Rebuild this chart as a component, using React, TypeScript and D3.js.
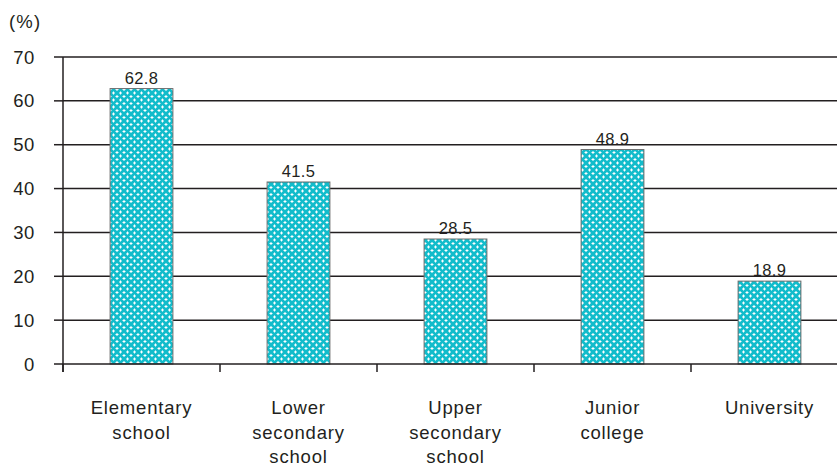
import React from "react";
import * as d3 from "d3";

const categories = [
  ["Elementary", "school"],
  ["Lower", "secondary", "school"],
  ["Upper", "secondary", "school"],
  ["Junior", "college"],
  ["University"],
];
const values = [62.8, 41.5, 28.5, 48.9, 18.9];
const yTicks = [0, 10, 20, 30, 40, 50, 60, 70];

const W = 837;
const H = 466;
const left = 63;
const step = 157;

export default function App() {
  const x = d3
    .scaleBand<number>()
    .domain(values.map((_, i) => i))
    .range([left, left + step * values.length])
    .paddingInner(0.6)
    .paddingOuter(0.3);
  const y = d3.scaleLinear().domain([0, 70]).range([364, 57]);
  const font = "'Liberation Sans', Arial, sans-serif";
  return (
    <svg width={W} height={H} style={{ position: "absolute", left: 0, top: 0 }}>
      <defs>
        <pattern id="dots" width="7" height="7" patternUnits="userSpaceOnUse">
          <rect width="7" height="7" fill="#12bccb" />
          <path d="M1 0.5h1v1h1v1h-1v1h-1v-1h-1v-1h1z" fill="#fff" />
          <path d="M4.5 4h1v1h1v1h-1v1h-1v-1h-1v-1h1z" fill="#fff" />
        </pattern>
      </defs>
      {yTicks.map((t) => (
        <g key={t}>
          {t > 0 && (
            <line x1={left} x2={W} y1={y(t)} y2={y(t)} stroke="#231f20" strokeWidth={1.5} />
          )}
          <line x1={54} x2={left} y1={y(t)} y2={y(t)} stroke="#231f20" strokeWidth={1.5} />
          <text
            x={35}
            y={y(t) + 6.5}
            textAnchor="end"
            fontSize={18.5}
            letterSpacing={0.6}
            fontFamily={font}
            fill="#231f20"
          >
            {t}
          </text>
        </g>
      ))}
      <text x={9} y={28} fontSize={18.5} letterSpacing={1.2} fontFamily={font} fill="#231f20">
        (%)
      </text>
      {values.map((v, i) => (
        <g key={i}>
          <rect
            x={x(i)}
            y={y(v)}
            width={x.bandwidth()}
            height={y(0) - y(v)}
            fill="url(#dots)"
            stroke="#6d6d6d"
            strokeWidth={1}
          />
          <text
            x={x(i)! + x.bandwidth() / 2}
            y={y(v) - 5}
            textAnchor="middle"
            fontSize={16.5}
            letterSpacing={0.4}
            fontFamily={font}
            fill="#231f20"
          >
            {v.toFixed(1)}
          </text>
        </g>
      ))}
      <line x1={left} x2={left} y1={57} y2={372} stroke="#231f20" strokeWidth={1.5} />
      <line x1={left} x2={W} y1={y(0)} y2={y(0)} stroke="#231f20" strokeWidth={1.5} />
      {values.map((_, i) => (
        <line
          key={i}
          x1={left + step * i}
          x2={left + step * i}
          y1={y(0)}
          y2={372}
          stroke="#231f20"
          strokeWidth={1.5}
        />
      ))}
      {categories.map((lines, i) => (
        <text
          key={i}
          textAnchor="middle"
          fontSize={18.5}
          letterSpacing={0.8}
          fontFamily={font}
          fill="#231f20"
        >
          {lines.map((l, j) => (
            <tspan key={j} x={x(i)! + x.bandwidth() / 2} y={414 + j * 24.5}>
              {l}
            </tspan>
          ))}
        </text>
      ))}
    </svg>
  );
}
